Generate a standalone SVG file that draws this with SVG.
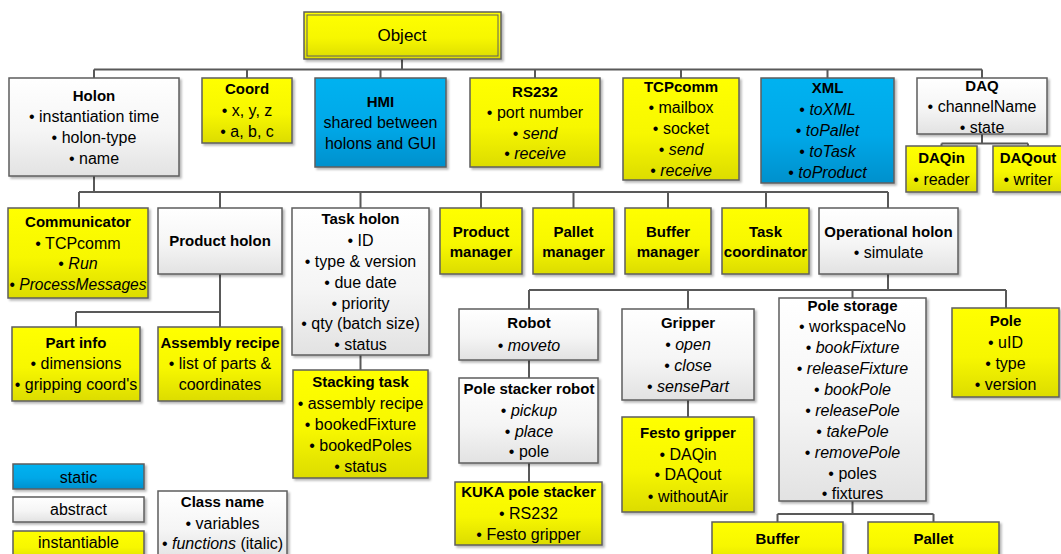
<svg xmlns="http://www.w3.org/2000/svg" width="1061" height="554" viewBox="0 0 1061 554">
<defs>
<linearGradient id="gy" x1="0" y1="0" x2="0" y2="1"><stop offset="0" stop-color="#FFFF00"/><stop offset="0.55" stop-color="#F7F700"/><stop offset="1" stop-color="#DCDC00"/></linearGradient>
<linearGradient id="gw" x1="0" y1="0" x2="0" y2="1"><stop offset="0" stop-color="#FFFFFF"/><stop offset="0.55" stop-color="#F5F5F5"/><stop offset="1" stop-color="#E2E2E2"/></linearGradient>
<linearGradient id="gb" x1="0" y1="0" x2="0" y2="1"><stop offset="0" stop-color="#00B2F0"/><stop offset="0.55" stop-color="#00A8E8"/><stop offset="1" stop-color="#0090CC"/></linearGradient>
<filter id="sh" x="-10%" y="-10%" width="130%" height="130%"><feDropShadow dx="2" dy="2" stdDeviation="1.2" flood-color="#000" flood-opacity="0.28"/></filter>
</defs>
<style>
rect{stroke:#5E5E5E;stroke-width:1.5;filter:url(#sh)}
.y{fill:url(#gy)}
.w{fill:url(#gw)}
.b{fill:url(#gb)}
text{font-family:"Liberation Sans",Arial,sans-serif;font-size:16px;fill:#000;text-anchor:middle}
.t{font-weight:bold;font-size:15px}
.i{font-style:italic}
.c path{stroke:#595959;stroke-width:2;fill:none}
</style>
<g class="c" id="connectors">
<path d="M402 59V69.5M94 69.5H982M94 69.5V78M247 69.5V78M380.5 69.5V78M535 69.5V78M681 69.5V78M827.5 69.5V78M982 69.5V78"/>
<path d="M982 134V143.5M941.5 143.5H1028M941.5 143.5V146M1028 143.5V146"/>
<path d="M94 176V192M79 192H888M79 192V208M220 192V208M360.5 192V208M481 192V208M573.5 192V208M668 192V208M766 192V208M888 192V208"/>
<path d="M220 274V312M76 312H220M76 312V327M220 312V327"/>
<path d="M360.5 355V370"/>
<path d="M888 274V290M529 290H1006M529 290V309M688 290V309M852.5 290V298M1006 290V308"/>
<path d="M529 360V378M529 463V482M688 400V417"/>
<path d="M852.5 501V514M777.5 514H933.5M777.5 514V522M933.5 514V522"/>
</g>
<g id="object"><rect class="y" x="304" y="12" width="197" height="47"/><rect x="307" y="15" width="191" height="41" fill="none" style="filter:none;stroke-width:1"/><text x="402" y="41" style="font-size:17px">Object</text></g>
<g id="holon"><rect class="w" x="9" y="78" width="170" height="98"/><text class="t" x="94" y="101">Holon</text><text x="94" y="122">• instantiation time</text><text x="94" y="143">• holon-type</text><text x="94" y="164">• name</text></g>
<g id="coord"><rect class="y" x="202" y="78" width="90" height="65"/><text class="t" x="247" y="94">Coord</text><text x="247" y="116">• x, y, z</text><text x="247" y="137">• a, b, c</text></g>
<g id="hmi"><rect class="b" x="315" y="78" width="131" height="89"/><text class="t" x="380.5" y="107">HMI</text><text x="380.5" y="128">shared between</text><text x="380.5" y="149">holons and GUI</text></g>
<g id="rs232"><rect class="y" x="470" y="78" width="130" height="89"/><text class="t" x="535" y="97">RS232</text><text x="535" y="118">• port number</text><text x="535" y="139">• <tspan class="i">send</tspan></text><text x="535" y="159">• <tspan class="i">receive</tspan></text></g>
<g id="tcpcomm"><rect class="y" x="623" y="78" width="116" height="102"/><text class="t" x="681" y="92">TCPcomm</text><text x="681" y="113">• mailbox</text><text x="681" y="134">• socket</text><text x="681" y="155">• <tspan class="i">send</tspan></text><text x="681" y="176">• <tspan class="i">receive</tspan></text></g>
<g id="xml"><rect class="b" x="761" y="78" width="133" height="105"/><text class="t" x="827.5" y="93">XML</text><text x="827.5" y="115">• <tspan class="i">toXML</tspan></text><text x="827.5" y="136">• <tspan class="i">toPallet</tspan></text><text x="827.5" y="157">• <tspan class="i">toTask</tspan></text><text x="827.5" y="178">• <tspan class="i">toProduct</tspan></text></g>
<g id="daq"><rect class="w" x="917" y="78" width="130" height="56"/><text class="t" x="982" y="91">DAQ</text><text x="982" y="112">• channelName</text><text x="982" y="133">• state</text></g>
<g id="daqin"><rect class="y" x="906" y="146" width="71" height="46"/><text class="t" x="941.5" y="163">DAQin</text><text x="941.5" y="185">• reader</text></g>
<g id="daqout"><rect class="y" x="993" y="146" width="74" height="46"/><text class="t" x="1028" y="163">DAQout</text><text x="1028" y="185">• writer</text></g>
<g id="communicator"><rect class="y" x="8" y="208" width="140" height="90"/><text class="t" x="78" y="227">Communicator</text><text x="78" y="249">• TCPcomm</text><text x="78" y="269">• <tspan class="i">Run</tspan></text><text x="78" y="290" textLength="137" lengthAdjust="spacingAndGlyphs">• <tspan class="i">ProcessMessages</tspan></text></g>
<g id="product-holon"><rect class="w" x="158" y="208" width="124" height="66"/><text class="t" x="220" y="246">Product holon</text></g>
<g id="task-holon"><rect class="w" x="292" y="208" width="137" height="147"/><text class="t" x="360.5" y="224">Task holon</text><text x="360.5" y="246">• ID</text><text x="360.5" y="267">• type &amp; version</text><text x="360.5" y="288">• due date</text><text x="360.5" y="309">• priority</text><text x="360.5" y="329">• qty (batch size)</text><text x="360.5" y="350">• status</text></g>
<g id="product-manager"><rect class="y" x="440" y="208" width="82" height="66"/><text class="t" x="481" y="237">Product</text><text class="t" x="481" y="257">manager</text></g>
<g id="pallet-manager"><rect class="y" x="533" y="208" width="81" height="66"/><text class="t" x="573.5" y="237">Pallet</text><text class="t" x="573.5" y="257">manager</text></g>
<g id="buffer-manager"><rect class="y" x="625" y="208" width="86" height="66"/><text class="t" x="668" y="237">Buffer</text><text class="t" x="668" y="257">manager</text></g>
<g id="task-coordinator"><rect class="y" x="722" y="208" width="87" height="66"/><text class="t" x="765.5" y="237">Task</text><text class="t" x="765.5" y="257">coordinator</text></g>
<g id="operational-holon"><rect class="w" x="819" y="208" width="139" height="66"/><text class="t" x="888.5" y="237">Operational holon</text><text x="888.5" y="258">• simulate</text></g>
<g id="part-info"><rect class="y" x="12" y="327" width="128" height="74"/><text class="t" x="76" y="348">Part info</text><text x="76" y="369">• dimensions</text><text x="76" y="390">• gripping coord's</text></g>
<g id="assembly-recipe"><rect class="y" x="158" y="327" width="124" height="74"/><text class="t" x="220" y="348">Assembly recipe</text><text x="220" y="369">• list of parts &amp;</text><text x="220" y="390">coordinates</text></g>
<g id="stacking-task"><rect class="y" x="293" y="370" width="135" height="108"/><text class="t" x="360.5" y="387">Stacking task</text><text x="360.5" y="409">• assembly recipe</text><text x="360.5" y="430">• bookedFixture</text><text x="360.5" y="451">• bookedPoles</text><text x="360.5" y="472">• status</text></g>
<g id="robot"><rect class="w" x="459" y="309" width="139" height="51"/><text class="t" x="529" y="328">Robot</text><text x="529" y="351">• <tspan class="i">moveto</tspan></text></g>
<g id="pole-stacker-robot"><rect class="w" x="459" y="378" width="139" height="85"/><text class="t" x="529" y="394">Pole stacker robot</text><text x="529" y="416">• <tspan class="i">pickup</tspan></text><text x="529" y="437">• <tspan class="i">place</tspan></text><text x="529" y="457">• pole</text></g>
<g id="kuka-pole-stacker"><rect class="y" x="455" y="482" width="147" height="63"/><text class="t" x="528.5" y="497">KUKA pole stacker</text><text x="528.5" y="519">• RS232</text><text x="528.5" y="540">• Festo gripper</text></g>
<g id="gripper"><rect class="w" x="622" y="309" width="132" height="91"/><text class="t" x="688" y="328">Gripper</text><text x="688" y="350">• <tspan class="i">open</tspan></text><text x="688" y="371">• <tspan class="i">close</tspan></text><text x="688" y="392">• <tspan class="i">sensePart</tspan></text></g>
<g id="festo-gripper"><rect class="y" x="622" y="417" width="132" height="95"/><text class="t" x="688" y="438">Festo gripper</text><text x="688" y="460">• DAQin</text><text x="688" y="480">• DAQout</text><text x="688" y="502">• withoutAir</text></g>
<g id="pole-storage"><rect class="w" x="779" y="298" width="147" height="203"/><text class="t" x="852.5" y="311">Pole storage</text><text x="852.5" y="332">• workspaceNo</text><text x="852.5" y="353">• <tspan class="i">bookFixture</tspan></text><text x="852.5" y="374">• <tspan class="i">releaseFixture</tspan></text><text x="852.5" y="395">• <tspan class="i">bookPole</tspan></text><text x="852.5" y="416">• <tspan class="i">releasePole</tspan></text><text x="852.5" y="437">• <tspan class="i">takePole</tspan></text><text x="852.5" y="458">• <tspan class="i">removePole</tspan></text><text x="852.5" y="479">• poles</text><text x="852.5" y="499">• fixtures</text></g>
<g id="pole"><rect class="y" x="952" y="308" width="107" height="89"/><text class="t" x="1005.5" y="326">Pole</text><text x="1005.5" y="348">• uID</text><text x="1005.5" y="369">• type</text><text x="1005.5" y="390">• version</text></g>
<g id="buffer"><rect class="y" x="712" y="522" width="131" height="44"/><text class="t" x="777.5" y="544">Buffer</text></g>
<g id="pallet"><rect class="y" x="868" y="522" width="131" height="44"/><text class="t" x="933.5" y="544">Pallet</text></g>
<g id="legend-static"><rect class="b" x="13" y="464" width="131" height="25"/><text x="78.5" y="483">static</text></g>
<g id="legend-abstract"><rect class="w" x="13" y="497" width="131" height="25"/><text x="78.5" y="515">abstract</text></g>
<g id="legend-instantiable"><rect class="y" x="13" y="531" width="131" height="30"/><text x="78.5" y="548">instantiable</text></g>
<g id="legend-class"><rect class="w" x="158" y="491" width="129" height="70"/><text class="t" x="222.5" y="507">Class name</text><text x="222.5" y="529">• variables</text><text x="222.5" y="549">• <tspan class="i">functions</tspan> (italic)</text></g>
</svg>
